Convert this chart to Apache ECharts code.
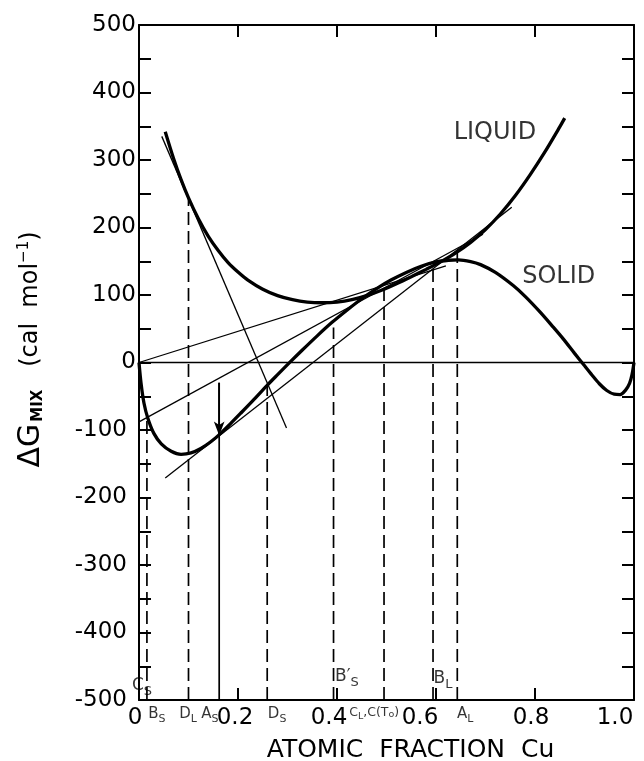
<!DOCTYPE html>
<html><head><meta charset="utf-8">
<script src="https://cdn.jsdelivr.net/npm/echarts@6/dist/echarts.min.js"></script>
<style>html,body{margin:0;padding:0;background:#fff}#c{width:644px;height:761px}</style>
</head><body><div id="c"></div>
<script>
// ---- data ----
const liquidX = [0.053,0.07,0.085,0.1,0.12,0.14,0.16,0.18,0.2,0.22,0.25,0.28,0.31,0.34,0.37,0.40,0.43,0.46,0.49,0.52,0.55,0.58,0.61,0.64,0.67,0.70,0.73,0.76,0.79,0.82,0.85,0.86];
const liquidY = [342,302,271,244,213,187,166,148,134,122,108.5,99,93,89.5,88.5,89.5,93,99,107,116.5,127,138,149.5,162.5,178,197,220,247,278,312,349,362];
const solidX = [0,0.004,0.01,0.018,0.03,0.045,0.065,0.085,0.105,0.125,0.145,0.165,0.185,0.205,0.23,0.258,0.28,0.305,0.33,0.36,0.39,0.42,0.45,0.48,0.51,0.54,0.57,0.60,0.625,0.645,0.67,0.69,0.72,0.756,0.78,0.81,0.835,0.857,0.88,0.898,0.915,0.93,0.945,0.96,0.972,0.983,0.991,0.996,1.0];
const solidY = [0,-30,-60,-83,-105,-120.5,-131.5,-136,-134,-127.5,-117.5,-105,-90.5,-75.5,-56.5,-34.5,-18,0.5,18.5,39.5,59.5,77.5,94.5,109.5,122.5,133.5,142.5,149,151.5,152,149.5,145,133.5,114,98,75,54,35,13.5,-3,-18.5,-31.5,-41.5,-47,-47.5,-41,-31,-18,0];
// tangent lines (end points, data units)
const tangentB = [[0,0],[0.62,143]];
const tangentC = [[0,-88],[0.695,190]];
const tangentA = [[0.053,-171],[0.753,230]];
const tangentD = [[0.046,335],[0.298,-97]];
const zeroLine = [[0,0],[1,0]];
// dashed composition drop lines
const dropX = [0.016,0.1,0.259,0.393,0.495,0.594,0.643];
const dropTop = [-85,242,-33,52,110,146,163];
// A_S arrow
const arrowX = 0.162, arrowTop = -30, arrowTip = -108;
// axis ranges
const xMin = 0, xMax = 1, xStep = 0.2;
const yMin = -500, yMax = 500, yStep = 50;
// annotations
const bottomNotes = ['B{s|S}','D{s|L}','A{s|S}','D{s|S}','{c|C}{cs|L}{c|,C(T}{ct|o}{c|)}','A{s|L}'];
const bottomNoteX = [0.036,0.099,0.143,0.279,0.475,0.659];
const innerNotes = ['C{s|S}','B′{s|S}','B{s|L}'];
const innerNoteX = [0.006,0.42,0.614];
const innerNoteY = [-479,-466,-469];
const curveNotes = ['LIQUID','SOLID'];
const curveNoteX = [0.719,0.848];
const curveNoteY = [341,127];

const zip = (xs, ys) => xs.map((x,i)=>[x, ys[i]]);
const FONT = 'DejaVu Sans';
const BLACK = '#000';

const smallRich = {
  s: {fontFamily: FONT, fontSize: 11, color: BLACK, padding: [9,0,0,0]},
  c: {fontFamily: FONT, fontSize: 12.5, color: BLACK},
  cs: {fontFamily: FONT, fontSize: 9.5, color: BLACK, padding: [7,0,0,0]},
  ct: {fontFamily: FONT, fontSize: 9.5, color: BLACK, padding: [3,0,0,0]}
};

const series = [];
const thin = (data) => ({type:'line', data, showSymbol:false, silent:true, lineStyle:{color:BLACK, width:1.3}, z:3});
series.push(thin(zeroLine));
[tangentB, tangentC, tangentA, tangentD].forEach(d => series.push(thin(d)));
dropX.forEach((x,i) => series.push({type:'line', data:[[x,yMin],[x,dropTop[i]]], showSymbol:false, silent:true,
  lineStyle:{color:BLACK, width:1.7, type:[13,6]}, z:3}));
series.push({type:'line', data:[[arrowX,yMin],[arrowX,arrowTop]], showSymbol:false, silent:true,
  lineStyle:{color:BLACK, width:1.7}, z:3,
  markLine:{silent:true, symbol:['none','arrow'], symbolSize:[8,14], label:{show:false},
    lineStyle:{color:BLACK, width:1.7, type:'solid'},
    data:[[{coord:[arrowX,arrowTop]},{coord:[arrowX,arrowTip]}]]}});
series.push({type:'line', data: zip(liquidX, liquidY), showSymbol:false, smooth:0.3, silent:true,
  lineStyle:{color:BLACK, width:3.3}, z:4});
series.push({type:'line', data: zip(solidX, solidY), showSymbol:false, smooth:0.3, silent:true,
  lineStyle:{color:BLACK, width:3.3}, z:4});
// annotations
series.push({type:'scatter', silent:true, symbolSize:1, itemStyle:{color:'rgba(0,0,0,0)'}, z:6,
  data: bottomNotes.map((t,i)=>({value:[bottomNoteX[i], yMin], label:{formatter:t}})),
  label:{show:true, position:'bottom', distance:4, fontFamily:FONT, fontSize:15, color:BLACK, rich:smallRich}});
series.push({type:'scatter', silent:true, symbolSize:1, itemStyle:{color:'rgba(0,0,0,0)'}, z:6,
  data: innerNotes.map((t,i)=>({value:[innerNoteX[i], innerNoteY[i]], label:{formatter:t}})),
  label:{show:true, position:'inside', fontFamily:FONT, fontSize:17, color:BLACK, rich:{s:{fontFamily:FONT,fontSize:13,color:BLACK,padding:[11,0,0,0]}}}});
series.push({type:'scatter', silent:true, symbolSize:1, itemStyle:{color:'rgba(0,0,0,0)'}, z:6,
  data: curveNotes.map((t,i)=>({value:[curveNoteX[i], curveNoteY[i]], label:{formatter:t}})),
  label:{show:true, position:'inside', fontFamily:FONT, fontSize:24, color:BLACK}});

const xLabel = v => {
  const k = Math.round(v*10);
  const t = k===0 ? '0' : (k/10).toFixed(1);
  const shift = {0:8, 2:6, 4:16, 6:32, 8:8, 10:38}[k] || 0;
  return '{p' + shift + '|' + t + '}';
};
const xRich = {};
[8,6,16,32,38].forEach(p => xRich['p'+p] = {fontFamily:FONT, fontSize:23, color:BLACK, padding:[0,p,0,0]});
const yLabel = v => {
  if (Math.round(v) % 100 !== 0) return '';
  if (v < 0) return '{n|-' + Math.abs(v) + '}';
  return '{p|' + v + '}';
};

const axisLine = {show:true, onZero:false, lineStyle:{color:BLACK, width:2}};
const axisTick = {show:true, inside:true, length:12, lineStyle:{color:BLACK, width:2}};

const option = {
  animation:false,
  backgroundColor:'#fff',
  grid:{left:139, right:10, top:25, bottom:61, containLabel:false, outerBoundsMode:'none'},
  xAxis:[
    {type:'value', min:xMin, max:xMax, interval:xStep, position:'bottom',
     axisLine, axisTick, splitLine:{show:false},
     axisLabel:{margin:7, formatter:xLabel, rich:xRich, fontFamily:FONT, fontSize:23, color:BLACK},
     name:'ATOMIC  FRACTION  Cu', nameLocation:'middle', nameGap:38,
     nameTextStyle:{fontFamily:FONT, fontSize:25, color:BLACK, padding:[0,0,0,48]}},
    {type:'value', min:xMin, max:xMax, interval:xStep, position:'top',
     axisLine, axisTick, splitLine:{show:false}, axisLabel:{show:false}}
  ],
  yAxis:[
    {type:'value', min:yMin, max:yMax, interval:yStep, position:'left',
     axisLine, axisTick, splitLine:{show:false},
     axisLabel:{margin:3, formatter:yLabel, fontFamily:FONT, fontSize:23, color:BLACK,
       rich:{p:{fontFamily:FONT,fontSize:23,color:BLACK}, n:{fontFamily:FONT,fontSize:23,color:BLACK,padding:[0,9,0,0]}}},
     name:'{d|ΔG}{m|MIX}{r|   (cal  mol}{u|−1}{r|)}', nameLocation:'middle', nameRotate:90, nameGap:93,
     nameTextStyle:{color:BLACK, padding:[0,0,0,26], rich:{
       d:{fontFamily:FONT, fontSize:30, color:BLACK},
       m:{fontFamily:FONT, fontSize:15, fontWeight:'bold', color:BLACK, padding:[14,0,0,2]},
       r:{fontFamily:FONT, fontSize:24, color:BLACK},
       u:{fontFamily:FONT, fontSize:15, color:BLACK, padding:[0,0,14,0]}
     }}},
    {type:'value', min:yMin, max:yMax, interval:yStep, position:'right',
     axisLine, axisTick, splitLine:{show:false}, axisLabel:{show:false}}
  ],
  series
};
const chart = echarts.init(document.getElementById('c'), null, {renderer:'canvas'});
chart.setOption(option);
</script>
</body></html>
